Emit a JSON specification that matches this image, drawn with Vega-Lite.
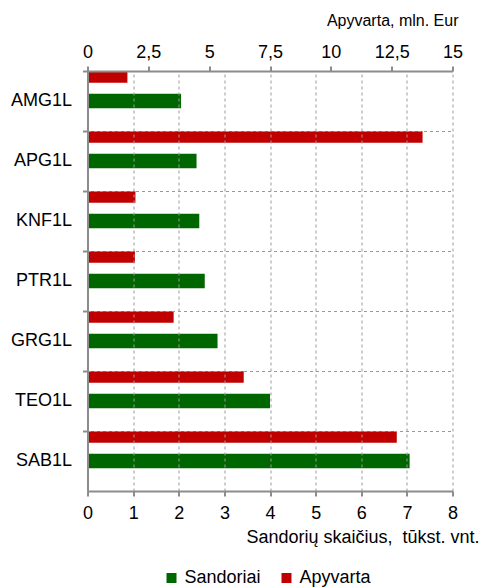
{
  "$schema": "https://vega.github.io/schema/vega-lite/v6.json",
  "width": 365,
  "height": 420,
  "autosize": "none",
  "padding": {"left": 87.5, "top": 71, "right": 26.5, "bottom": 97},
  "background": "white",
  "config": {
    "font": "Liberation Sans",
    "view": {"stroke": null},
    "axis": {
      "domainColor": "#8c8c8c",
      "domainWidth": 2,
      "tickColor": "#8c8c8c",
      "tickWidth": 2,
      "tickSize": 5,
      "gridColor": "#9a9a9a",
      "gridDash": [3, 3],
      "gridWidth": 1,
      "labelColor": "#000000",
      "labelFont": "Liberation Sans",
      "labelFontSize": 18,
      "titleFont": "Liberation Sans",
      "titleFontSize": 16,
      "titleFontWeight": "normal",
      "titleColor": "#000000"
    },
    "legend": {"padding": 0}
  },
  "data": {
    "values": [
      {"ticker": "AMG1L", "series": "Apyvarta", "value": 1.64},
      {"ticker": "AMG1L", "series": "Sandoriai", "value": 2.05},
      {"ticker": "APG1L", "series": "Apyvarta", "value": 13.77},
      {"ticker": "APG1L", "series": "Sandoriai", "value": 2.39},
      {"ticker": "KNF1L", "series": "Apyvarta", "value": 1.97},
      {"ticker": "KNF1L", "series": "Sandoriai", "value": 2.45},
      {"ticker": "PTR1L", "series": "Apyvarta", "value": 1.95},
      {"ticker": "PTR1L", "series": "Sandoriai", "value": 2.57},
      {"ticker": "GRG1L", "series": "Apyvarta", "value": 3.54},
      {"ticker": "GRG1L", "series": "Sandoriai", "value": 2.85},
      {"ticker": "TEO1L", "series": "Apyvarta", "value": 6.42},
      {"ticker": "TEO1L", "series": "Sandoriai", "value": 4.0},
      {"ticker": "SAB1L", "series": "Apyvarta", "value": 12.71},
      {"ticker": "SAB1L", "series": "Sandoriai", "value": 7.06}
    ]
  },
  "encoding": {
    "y": {
      "field": "ticker",
      "type": "nominal",
      "sort": ["AMG1L", "APG1L", "KNF1L", "PTR1L", "GRG1L", "TEO1L", "SAB1L"],
      "scale": {"paddingInner": 0, "paddingOuter": 0},
      "axis": {
        "title": null,
        "bandPosition": 0,
        "grid": true,
        "labelPadding": 11,
        "zindex": 1
      }
    },
    "yOffset": {
      "field": "series",
      "type": "nominal",
      "scale": {"domain": ["Apyvarta", "Sandoriai"], "paddingInner": 0.5, "paddingOuter": 0.5, "align": 0}
    },
    "color": {
      "field": "series",
      "type": "nominal",
      "scale": {"domain": ["Sandoriai", "Apyvarta"], "range": ["#006600", "#c00000"]},
      "legend": {
        "title": null,
        "orient": "none",
        "direction": "horizontal",
        "legendX": 75,
        "legendY": 498,
        "symbolType": "square",
        "symbolSize": 100,
        "symbolStrokeWidth": 0,
        "symbolOpacity": 1,
        "labelFontSize": 18,
        "labelFont": "Liberation Sans",
        "labelColor": "#000000",
        "labelOffset": 4,
        "columnPadding": 16
      }
    }
  },
  "layer": [
    {
      "transform": [{"filter": "datum.series === 'Sandoriai'"}],
      "mark": {"type": "bar", "height": 14.5},
      "encoding": {
        "x": {
          "field": "value",
          "type": "quantitative",
          "scale": {"domain": [0, 8], "nice": false},
          "axis": {
            "orient": "bottom",
            "values": [0, 1, 2, 3, 4, 5, 6, 7, 8],
            "grid": true,
            "labelPadding": 8,
            "labelFlush": false,
            "title": "Sandorių skaičius, \u00a0tūkst. vnt.",
            "titleFontSize": 18,
            "titleAnchor": "end",
            "titleAlign": "right",
            "titleBaseline": "middle",
            "titleX": 391.5,
            "titleY": 46,
            "zindex": 1
          }
        }
      }
    },
    {
      "transform": [{"filter": "datum.series === 'Apyvarta'"}],
      "mark": {"type": "bar", "height": 11.5},
      "encoding": {
        "x": {
          "field": "value",
          "type": "quantitative",
          "scale": {"domain": [0, 15], "nice": false},
          "axis": {
            "orient": "top",
            "values": [0, 2.5, 5, 7.5, 10, 12.5, 15],
            "labelExpr": "replace(format(datum.value, '~g'), '.', ',')",
            "grid": false,
            "labelPadding": 5,
            "labelFlush": false,
            "title": "Apyvarta, mln. Eur",
            "titleAnchor": "end",
            "titleAlign": "right",
            "titleBaseline": "middle",
            "titleX": 370.5,
            "titleY": -51,
            "zindex": 1
          }
        }
      }
    }
  ],
  "resolve": {"scale": {"x": "independent"}}
}
